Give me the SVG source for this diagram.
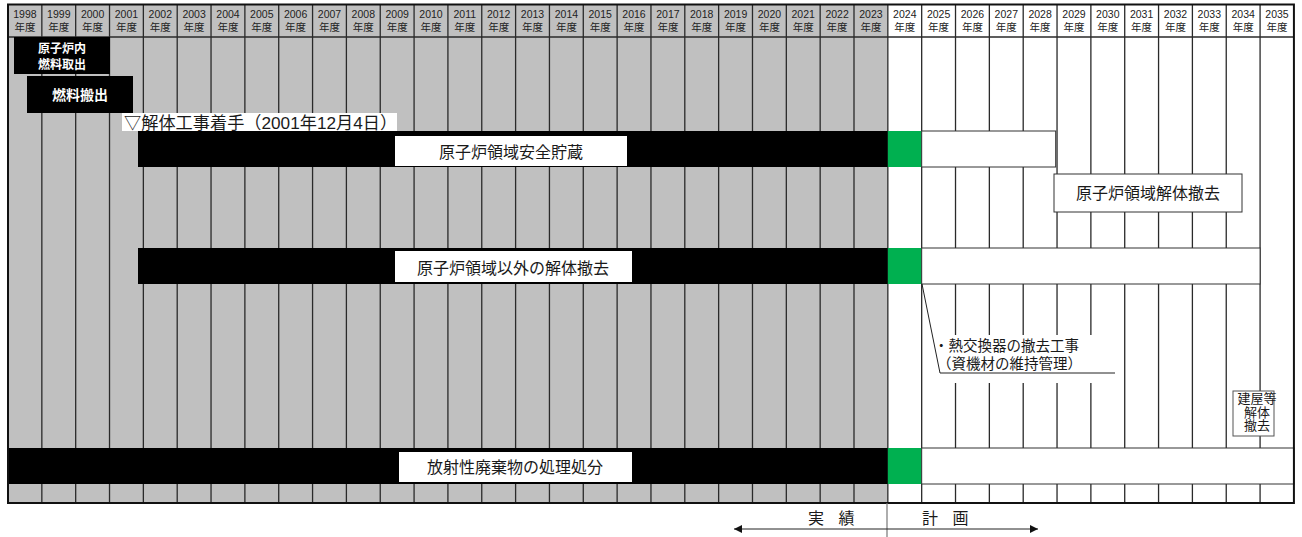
<svg xmlns="http://www.w3.org/2000/svg" width="1302" height="537" viewBox="0 0 1302 537">
<style>
text{font-family:"Liberation Sans","Noto Sans CJK JP",sans-serif;fill:#1a1a1a}
.hd{font-size:10.5px;text-anchor:middle;fill:#222}
.grid{stroke:#2a2a2a;stroke-width:1.3;fill:none}
.blk{fill:#000}
.grn{fill:#00b050}
.wbar{fill:#fff;stroke:#333;stroke-width:1}
.lbl{fill:#fff}
.lt{font-size:16px;text-anchor:middle}
.wt{fill:#fff;font-weight:bold;text-anchor:middle}
.conn{stroke:#222;stroke-width:1;fill:none}
</style>
<defs>
<marker id="ah" viewBox="0 0 10 10" refX="10" refY="5" markerWidth="8" markerHeight="8" markerUnits="userSpaceOnUse" orient="auto-start-reverse">
<path d="M0,0 L10,5 L0,10 z" fill="#111"/>
</marker>
</defs>
<rect width="1302" height="537" fill="#fff"/>
<g id="background">
<rect x="8" y="4.5" width="879.84" height="498.5" fill="#c0c0c0"/>
<rect x="887.84" y="4.5" width="406.08" height="498.5" fill="#fff"/>
<path class="grid" d="M41.84 4.5V503M75.68 4.5V503M109.52 4.5V503M143.36 4.5V503M177.2 4.5V503M211.04 4.5V503M244.88 4.5V503M278.72 4.5V503M312.56 4.5V503M346.4 4.5V503M380.24 4.5V503M414.08 4.5V503M447.92 4.5V503M481.76 4.5V503M515.6 4.5V503M549.44 4.5V503M583.28 4.5V503M617.12 4.5V503M650.96 4.5V503M684.8 4.5V503M718.64 4.5V503M752.48 4.5V503M786.32 4.5V503M820.16 4.5V503M854 4.5V503M887.84 4.5V503M921.68 4.5V503M955.52 4.5V503M989.36 4.5V503M1023.2 4.5V503M1057.04 4.5V503M1090.88 4.5V503M1124.72 4.5V503M1158.56 4.5V503M1192.4 4.5V503M1226.24 4.5V503M1260.08 4.5V503M8 37H1293.92"/>
</g>
<g id="header">
<text class="hd"><tspan x="24.9" y="18">1998</tspan><tspan x="24.9" y="31">年度</tspan></text>
<text class="hd"><tspan x="58.8" y="18">1999</tspan><tspan x="58.8" y="31">年度</tspan></text>
<text class="hd"><tspan x="92.6" y="18">2000</tspan><tspan x="92.6" y="31">年度</tspan></text>
<text class="hd"><tspan x="126.4" y="18">2001</tspan><tspan x="126.4" y="31">年度</tspan></text>
<text class="hd"><tspan x="160.3" y="18">2002</tspan><tspan x="160.3" y="31">年度</tspan></text>
<text class="hd"><tspan x="194.1" y="18">2003</tspan><tspan x="194.1" y="31">年度</tspan></text>
<text class="hd"><tspan x="228" y="18">2004</tspan><tspan x="228" y="31">年度</tspan></text>
<text class="hd"><tspan x="261.8" y="18">2005</tspan><tspan x="261.8" y="31">年度</tspan></text>
<text class="hd"><tspan x="295.6" y="18">2006</tspan><tspan x="295.6" y="31">年度</tspan></text>
<text class="hd"><tspan x="329.5" y="18">2007</tspan><tspan x="329.5" y="31">年度</tspan></text>
<text class="hd"><tspan x="363.3" y="18">2008</tspan><tspan x="363.3" y="31">年度</tspan></text>
<text class="hd"><tspan x="397.2" y="18">2009</tspan><tspan x="397.2" y="31">年度</tspan></text>
<text class="hd"><tspan x="431" y="18">2010</tspan><tspan x="431" y="31">年度</tspan></text>
<text class="hd"><tspan x="464.8" y="18">2011</tspan><tspan x="464.8" y="31">年度</tspan></text>
<text class="hd"><tspan x="498.7" y="18">2012</tspan><tspan x="498.7" y="31">年度</tspan></text>
<text class="hd"><tspan x="532.5" y="18">2013</tspan><tspan x="532.5" y="31">年度</tspan></text>
<text class="hd"><tspan x="566.4" y="18">2014</tspan><tspan x="566.4" y="31">年度</tspan></text>
<text class="hd"><tspan x="600.2" y="18">2015</tspan><tspan x="600.2" y="31">年度</tspan></text>
<text class="hd"><tspan x="634" y="18">2016</tspan><tspan x="634" y="31">年度</tspan></text>
<text class="hd"><tspan x="667.9" y="18">2017</tspan><tspan x="667.9" y="31">年度</tspan></text>
<text class="hd"><tspan x="701.7" y="18">2018</tspan><tspan x="701.7" y="31">年度</tspan></text>
<text class="hd"><tspan x="735.6" y="18">2019</tspan><tspan x="735.6" y="31">年度</tspan></text>
<text class="hd"><tspan x="769.4" y="18">2020</tspan><tspan x="769.4" y="31">年度</tspan></text>
<text class="hd"><tspan x="803.2" y="18">2021</tspan><tspan x="803.2" y="31">年度</tspan></text>
<text class="hd"><tspan x="837.1" y="18">2022</tspan><tspan x="837.1" y="31">年度</tspan></text>
<text class="hd"><tspan x="870.9" y="18">2023</tspan><tspan x="870.9" y="31">年度</tspan></text>
<text class="hd"><tspan x="904.8" y="18">2024</tspan><tspan x="904.8" y="31">年度</tspan></text>
<text class="hd"><tspan x="938.6" y="18">2025</tspan><tspan x="938.6" y="31">年度</tspan></text>
<text class="hd"><tspan x="972.4" y="18">2026</tspan><tspan x="972.4" y="31">年度</tspan></text>
<text class="hd"><tspan x="1006.3" y="18">2027</tspan><tspan x="1006.3" y="31">年度</tspan></text>
<text class="hd"><tspan x="1040.1" y="18">2028</tspan><tspan x="1040.1" y="31">年度</tspan></text>
<text class="hd"><tspan x="1074" y="18">2029</tspan><tspan x="1074" y="31">年度</tspan></text>
<text class="hd"><tspan x="1107.8" y="18">2030</tspan><tspan x="1107.8" y="31">年度</tspan></text>
<text class="hd"><tspan x="1141.6" y="18">2031</tspan><tspan x="1141.6" y="31">年度</tspan></text>
<text class="hd"><tspan x="1175.5" y="18">2032</tspan><tspan x="1175.5" y="31">年度</tspan></text>
<text class="hd"><tspan x="1209.3" y="18">2033</tspan><tspan x="1209.3" y="31">年度</tspan></text>
<text class="hd"><tspan x="1243.2" y="18">2034</tspan><tspan x="1243.2" y="31">年度</tspan></text>
<text class="hd"><tspan x="1277" y="18">2035</tspan><tspan x="1277" y="31">年度</tspan></text>
</g>
<g id="fuel-removal">
<rect class="blk" x="14" y="37" width="96" height="37"/>
<text class="wt" font-size="12"><tspan x="62" y="52.5">原子炉内</tspan><tspan x="62" y="68.5">燃料取出</tspan></text>
</g>
<g id="fuel-transport">
<rect class="blk" x="27" y="76" width="106" height="37"/>
<text class="wt" x="80" y="100" font-size="14">燃料搬出</text>
</g>
<g id="start-marker">
<rect class="lbl" x="122" y="113" width="275" height="18"/>
<text x="124" y="128.5" font-size="17.2">▽解体工事着手（2001年12月4日）</text>
</g>
<g id="safe-storage">
<rect class="blk" x="138" y="131" width="749.84" height="36"/>
<rect class="lbl" x="395" y="136" width="232" height="30"/>
<text class="lt" x="511" y="157.5">原子炉領域安全貯蔵</text>
<rect class="grn" x="887.84" y="131" width="33.84" height="36"/>
<rect class="wbar" x="921.68" y="131" width="134" height="36"/>
</g>
<g id="reactor-dismantling">
<rect class="wbar" x="1054" y="174" width="188" height="38"/>
<text class="lt" x="1148" y="199">原子炉領域解体撤去</text>
</g>
<g id="non-reactor-dismantling">
<rect class="blk" x="138" y="248" width="749.84" height="36"/>
<rect class="lbl" x="395" y="251" width="237" height="31"/>
<text class="lt" x="513" y="273.5">原子炉領域以外の解体撤去</text>
<rect class="grn" x="887.84" y="248" width="33.84" height="36"/>
<rect class="wbar" x="921.68" y="248" width="338.4" height="36"/>
</g>
<g id="heat-exchanger-note">
<rect class="lbl" x="938" y="335" width="180" height="48"/>
<text font-size="14.5"><tspan x="934" y="350.5">・熱交換器の撤去工事</tspan><tspan x="937" y="368.5">（資機材の維持管理）</tspan></text>
</g>
<g id="building-dismantling">
<rect x="1233" y="391" width="41" height="45" fill="#fff" stroke="#555" stroke-width="1"/>
<text font-size="13" text-anchor="middle"><tspan x="1257" y="403">建屋等</tspan><tspan x="1257" y="417">解体</tspan><tspan x="1257" y="430">撤去</tspan></text>
</g>
<g id="waste-disposal">
<rect class="blk" x="8" y="448" width="879.84" height="36"/>
<rect class="lbl" x="399" y="452" width="233" height="30"/>
<text class="lt" x="515" y="473">放射性廃棄物の処理処分</text>
<rect class="grn" x="887.84" y="448" width="33.84" height="36"/>
<rect class="wbar" x="921.68" y="448" width="372.24" height="36"/>
</g>
<rect x="8" y="4.5" width="1285.92" height="498.5" fill="none" stroke="#111" stroke-width="2"/>
<g id="connectors">
<path class="conn" d="M922 284L940 373H1115"/>
<path d="M887 503V537" stroke="#777" stroke-width="1.2" fill="none"/>
<path class="conn" d="M734 529H1038" stroke-width="1.3" marker-start="url(#ah)" marker-end="url(#ah)"/>
</g>
<g id="legend">
<text x="808" y="524" font-size="16" letter-spacing="5">実 績</text>
<text x="922" y="524" font-size="16" letter-spacing="5">計 画</text>
</g>
</svg>
